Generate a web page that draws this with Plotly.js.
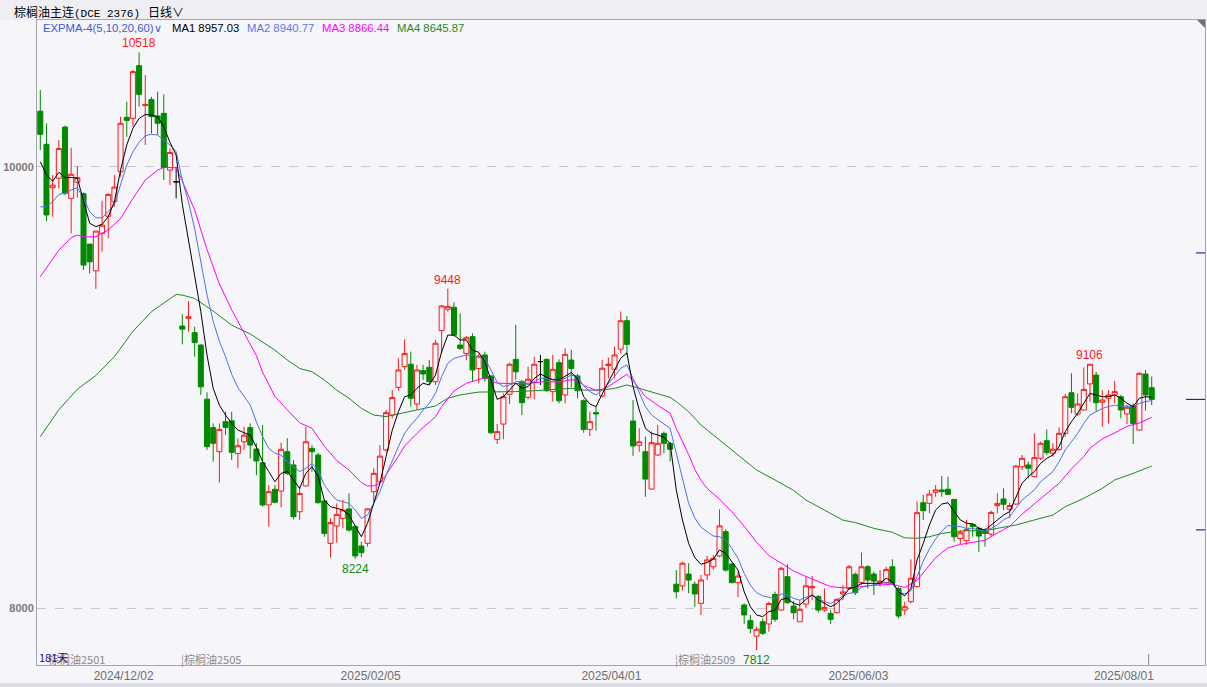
<!DOCTYPE html>
<html><head><meta charset="utf-8">
<script src="https://cdn.plot.ly/plotly-3.0.1.min.js"></script>
<style>html,body{margin:0;padding:0;background:#f5f5fa;overflow:hidden}</style>
</head><body><div id="chart" style="width:1207px;height:687px"></div>
<script>
// ---------- DATA ----------
const openPx = [10252,10102,9905,9948,10180,9857,9930,9878,9650,9529,9699,9776,9842,9978,10224,10219,10458,10277,10305,10230,10242,9985,9932,
9279,9314,9249,9193,8948,8819,8710,8846,8850,8702,8755,8819,8722,8660,8469,8540,8532,8710,8650,8438,8555,8725,8695,8487,8295,8374,8408,8451,8371,8283,8295,8529,8574,8718,8876,9001,9095,9106,8926,9077,9092,9027,9258,9355,9364,9193,9155,9231,9087,9148,9053,8766,8835,8970,9128,9027,8956,9023,9118,9128,8982,9113,8967,9125,9053,8941,8811,8887,8962,9100,9083,9174,9303,8849,8739,8710,8541,8695,8793,8748,
8110,8102,8156,8110,8023,8152,8189,8238,8348,8201,8117,8016,7945,7875,7940,7930,8064,7993,8144,8011,7940,8020,8094,8054,7993,7978,7981,8066,8090,8155,8117,8189,8156,8117,8117,8189,8091,7993,8031,8099,8479,8476,8526,8537,8540,8494,8317,8307,8381,8363,8348,8337,8466,8496,8449,8473,8642,8650,8597,8680,8760,8703,8721,8793,8977,8881,8899,9017,9057,8934,8952,8967,8959,8881,8917,8808,9062,9000];
const highPx = [10348,10197,9963,10121,10186,10086,10003,9884,9650,9709,9846,9880,9963,10227,10295,10438,10518,10415,10317,10340,10328,10083,10000,
9332,9392,9276,9196,8979,8838,8838,8891,8891,8770,8823,8838,8748,8831,8559,8559,8751,8771,8672,8552,8823,8740,8706,8491,8408,8476,8491,8521,8378,8303,8454,8635,8740,8899,8989,9133,9219,9163,9103,9103,9125,9216,9374,9448,9386,9336,9234,9246,9155,9163,9057,8835,8974,9113,9284,9035,9095,9140,9148,9133,9148,9128,9178,9171,9062,8947,8891,8914,9125,9137,9186,9344,9324,8944,8816,8778,8801,8831,8801,8755,
8174,8212,8205,8122,8152,8238,8242,8449,8358,8208,8167,8023,7971,7918,7955,8031,8076,8189,8201,8034,8038,8144,8147,8061,8091,7993,8046,8106,8197,8162,8253,8197,8167,8174,8189,8223,8099,8031,8223,8484,8514,8537,8559,8600,8597,8494,8355,8401,8386,8371,8363,8443,8522,8544,8479,8650,8695,8665,8793,8755,8811,8748,8820,8971,9065,8974,9092,9106,9072,8989,8989,9030,8967,8922,8929,9069,9080,9050];
const lowPx = [10076,9754,9774,9902,9872,9699,9860,9533,9517,9447,9616,9676,9819,9955,10136,10182,10272,10099,10151,10144,9940,9917,9857,
9196,9253,9140,8967,8718,8665,8571,8785,8672,8635,8718,8680,8604,8461,8371,8476,8458,8604,8404,8401,8552,8620,8476,8325,8232,8298,8363,8348,8224,8232,8280,8484,8567,8710,8861,8986,9080,8914,8899,9035,9012,9012,9155,9344,9231,9170,9125,9027,9020,9027,8790,8745,8766,8926,9035,8876,8947,8947,9012,8982,8937,8929,8929,9001,8952,8796,8781,8805,8956,9042,9042,9155,9148,8691,8710,8506,8537,8691,8703,8665,
8046,8081,8069,8008,7971,8129,8177,8232,8167,8114,8051,7930,7888,7812,7880,7895,7940,7990,8023,7951,7940,8001,8038,7981,7986,7930,7978,8038,8084,8061,8106,8091,8061,8099,8106,8106,7955,7971,8023,8096,8401,8431,8506,8506,8514,8303,8292,8288,8325,8257,8280,8325,8431,8446,8408,8469,8627,8589,8594,8672,8695,8688,8713,8778,8884,8872,8896,8937,8891,8823,8838,8929,8861,8835,8745,8805,8896,8921];
const closePx = [10147,9782,9917,10083,9880,9966,9951,9555,9570,9709,9736,9875,9908,10197,10210,10431,10328,10283,10227,10197,9997,10065,9932,
9265,9321,9204,9004,8733,8748,8811,8820,8707,8737,8785,8740,8668,8469,8529,8481,8721,8612,8416,8521,8755,8710,8479,8340,8389,8426,8446,8355,8238,8253,8451,8612,8690,8887,8955,9080,9155,8952,9080,9062,9027,9201,9370,9367,9238,9178,9226,9080,9143,9042,8796,8801,8959,9106,9072,8932,9038,9106,9118,8986,9083,8941,9151,9087,8986,8811,8846,8881,9088,9106,9148,9303,9196,8736,8755,8586,8751,8748,8748,8721,
8076,8205,8129,8066,8129,8220,8227,8374,8174,8117,8147,7971,7910,7906,7888,8023,7951,8182,8026,7981,7996,8103,8099,7993,8005,7951,8041,8075,8189,8072,8189,8129,8124,8124,8177,8114,7966,8008,8137,8434,8443,8518,8537,8529,8517,8325,8343,8358,8371,8328,8340,8435,8476,8472,8466,8645,8680,8635,8683,8748,8706,8721,8793,8959,8911,8926,8992,9106,8932,8944,8967,8982,8899,8911,8838,9065,8967,8947];

// EXPMA lines
const ma1 = [10023,9963,9935,9975,9951,9952,9948,9842,9744,9729,9739,9774,9842,9985,10099,10174,10219,10237,10234,10227,10181,10111,10053,
9830,9668,9510,9344,9148,8997,8921,8876,8838,8808,8796,8785,8730,8665,8620,8574,8612,8620,8582,8544,8612,8642,8597,8491,8461,8454,8446,8423,8371,8325,8386,8476,8567,8688,8808,8891,8959,8967,8997,9020,9012,9057,9163,9238,9238,9216,9216,9170,9160,9118,9035,8947,8959,8989,9020,8997,9005,9042,9062,9047,9035,9035,9053,9068,9042,8959,8926,8914,8971,9027,9080,9133,9158,9005,8899,8816,8793,8786,8775,8748,
8537,8401,8295,8230,8200,8208,8223,8265,8250,8212,8174,8076,8008,7971,7963,7986,7993,8041,8046,8023,8016,8041,8061,8039,8023,8008,8023,8051,8091,8096,8114,8114,8114,8114,8137,8121,8076,8057,8091,8220,8295,8378,8446,8473,8479,8439,8401,8386,8383,8363,8355,8378,8401,8423,8439,8506,8567,8597,8620,8657,8680,8695,8733,8801,8846,8884,8929,8974,8967,8959,8959,8967,8952,8929,8914,8952,8959,8957];
const ma2 = [9819,9819,9842,9875,9880,9895,9905,9857,9797,9769,9769,9797,9830,9917,10008,10068,10111,10141,10147,10144,10121,10099,10068,
9940,9840,9720,9570,9420,9300,9210,9140,9060,9000,8960,8921,8845,8778,8725,8703,8695,8665,8642,8620,8635,8657,8627,8559,8521,8491,8484,8476,8446,8408,8423,8476,8529,8604,8672,8733,8793,8831,8861,8899,8929,8974,9050,9110,9133,9140,9148,9148,9137,9133,9080,9023,9005,9012,9027,9027,9012,9027,9042,9042,9038,9035,9042,9057,9050,9008,8982,8967,8989,9020,9050,9088,9103,9042,8974,8914,8876,8854,8835,8816,
8703,8582,8476,8410,8368,8348,8328,8325,8310,8272,8227,8159,8106,8072,8057,8051,8046,8066,8061,8046,8038,8051,8061,8046,8031,8023,8038,8057,8069,8072,8096,8102,8106,8111,8117,8111,8076,8066,8081,8144,8215,8270,8315,8350,8376,8372,8371,8363,8363,8355,8352,8363,8378,8401,8416,8454,8491,8514,8537,8574,8597,8620,8665,8718,8755,8793,8838,8876,8891,8906,8914,8921,8917,8914,8914,8929,8937,8941];
const ma3Idx = [0,3,5,6,7,9,11,13,15,17,19,20,22,23,25,27,29,31,33,35,36,38,40,42,44,46,48,50,52,53,54,55,56,57,58,59,60,62,64,65,67,69,71,72,74,76,78,80,82,84,86,87,88,90,91,92,94,95,96,97,98,100,102,103,104,105,106,107,108,110,112,114,116,118,120,122,124,126,128,130,132,134,136,138,140,142,145,147,149,151,153,155,157,159,161,163,165,167,169,170,172,174,176,178,180];
const ma3Val = [9502,9623,9679,9691,9683,9683,9714,9766,9857,9940,9985,9997,9996,9935,9804,9625,9470,9352,9248,9145,9070,8960,8900,8841,8816,8735,8670,8627,8570,8555,8555,8567,8605,8645,8690,8735,8765,8820,8868,8915,8985,9020,9036,9045,9020,9020,9018,9022,9028,9025,9036,9033,9010,8988,8992,9005,9043,9060,9032,8995,8960,8920,8885,8815,8757,8697,8630,8580,8544,8495,8438,8372,8300,8240,8205,8170,8145,8121,8099,8094,8096,8103,8108,8110,8095,8128,8230,8275,8290,8298,8309,8342,8372,8427,8474,8519,8567,8632,8688,8726,8768,8795,8825,8840,8866];
const ma4Idx = [0,3,6,9,12,15,18,21,22,23,25,28,31,34,36,38,40,42,44,46,48,50,52,54,56,58,60,62,64,66,68,71,74,77,80,83,86,88,91,93,95,96,98,100,102,103,105,107,116,119,122,124,127,130,132,135,138,140,142,144,146,148,150,153,155,158,161,164,166,169,172,174,177,180];
const ma4Val = [8778,8900,8993,9055,9140,9255,9344,9404,9422,9419,9404,9347,9283,9243,9208,9170,9125,9087,9072,9035,8989,8952,8906,8876,8869,8881,8891,8902,8917,8952,8967,8980,8980,8982,8986,8992,8997,8989,8989,8997,9012,9005,8989,8971,8956,8937,8891,8831,8627,8582,8535,8491,8446,8400,8389,8363,8345,8320,8318,8325,8340,8348,8352,8352,8363,8378,8401,8423,8461,8499,8544,8582,8612,8645];

const tickIdx  = [13.5, 53.5, 92.5, 132.5, 175.5];
const tickText = ['2024/12/02','2025/02/05','2025/04/01','2025/06/03','2025/08/01'];
const priceTicks = [8000, 10000];
const legendNames = ['MA1','MA2','MA3','MA4'];
const legendVals  = ['8957.03','8940.77','8866.44','8645.87'];
const markIdx  = [16, 66, 170, 51, 116];      // labelled extremes
const markType = ['high','high','high','low','low'];
const contractNames  = ['棕榈油2501','棕榈油2505','棕榈油2509'];
const contractStarts = [0, 23, 103];
const rightMarks = [9610, 8356];
const cursorIdx = 179.5;
const dayCount = '181天';

// ---------- BUILD ----------
const N = closePx.length;
const idx = Array.from({length:N}, (_, i) => i);
const main = idx.filter(i => openPx[i] !== closePx[i]);
const doji = idx.filter(i => openPx[i] === closePx[i]);
const pick = (arr, sel) => sel.map(i => arr[i]);

const RED = '#ff1a1a', GREEN = '#008a00', BG = '#f5f5fa';
const traces = [
  {type:'candlestick', x: main, open: pick(openPx,main), high: pick(highPx,main), low: pick(lowPx,main), close: pick(closePx,main),
   increasing:{line:{color:RED,width:1}, fillcolor:BG}, decreasing:{line:{color:GREEN,width:1}, fillcolor:GREEN},
   whiskerwidth:0, hoverinfo:'skip'},
  {type:'candlestick', x: doji, open: pick(openPx,doji), high: pick(highPx,doji), low: pick(lowPx,doji), close: pick(closePx,doji),
   increasing:{line:{color:'#000',width:1}, fillcolor:'#000'}, decreasing:{line:{color:'#000',width:1}, fillcolor:'#000'},
   whiskerwidth:0, hoverinfo:'skip'},
  {type:'scatter', mode:'lines', x: ma4Idx, y: ma4Val, line:{color:'#1f8a1f', width:1}, hoverinfo:'skip'},
  {type:'scatter', mode:'lines', x: ma3Idx, y: ma3Val, line:{color:'#ff00ff', width:1}, hoverinfo:'skip'},
  {type:'scatter', mode:'lines', x: idx, y: ma2, line:{color:'#4a72e8', width:1}, hoverinfo:'skip'},
  {type:'scatter', mode:'lines', x: idx, y: ma1, line:{color:'#000000', width:1}, hoverinfo:'skip'}
];

const PL = 37, PR = 1205, PT = 20, PB = 665;
const px = v => (v - PL) / (PR - PL);
const py = v => (PB - v) / (PB - PT);
const latin = 'Liberation Sans, Arial, sans-serif';
const cjk = 'Noto Sans CJK SC, sans-serif';

const annotations = [];
const ann = (o) => annotations.push(Object.assign({showarrow:false, xref:'paper', yref:'paper', xanchor:'left', yanchor:'middle'}, o));

ann({x:px(12), y:py(12), text:'棕榈油主连<span style="font-family:Liberation Mono, monospace;font-size:11px">(DCE 2376)</span>', font:{family:cjk, size:12, color:'#000'}});
ann({x:px(146), y:py(12), text:'日线∨', font:{family:cjk, size:12, color:'#000'}});
ann({x:px(41), y:py(28), text:'EXPMA-4(5,10,20,60)∨', font:{family:latin, size:11.3, color:'#3a5ad6'}});
const legColors = ['#000000','#5a78e8','#ff00ff','#1f8a1f'];
const legX = [170, 245, 320, 395];
legendNames.forEach((n, k) => ann({x:px(legX[k]), y:py(28), text:n + ' ' + legendVals[k], font:{family:latin, size:11.3, color:legColors[k]}}));

markIdx.forEach((i, k) => {
  const hi = markType[k] === 'high';
  annotations.push({showarrow:false, xref:'x', yref:'y', x:i, y: hi ? highPx[i] : lowPx[i],
    xanchor:'center', yanchor: hi ? 'bottom' : 'top', yshift: hi ? 0 : -1,
    text: String(hi ? highPx[i] : lowPx[i]), font:{family:latin, size:12, color: hi ? '#ff1a1a' : '#108a10'}});
});

contractNames.forEach((n, k) => {
  annotations.push({showarrow:false, xref:'x', yref:'paper', x: k === 0 ? contractStarts[k] + 0.9 : contractStarts[k] - 0.5, y: py(659),
    xanchor:'left', yanchor:'middle', text: (k === 0 ? '' : '¦') + n, font:{family:cjk, size:11, color:'#8a8a8a'}});
});
ann({x:px(37), y:py(657), text:dayCount, font:{family:cjk, size:11, color:'#1010a0'}});

const shapes = [
  {type:'rect', xref:'paper', yref:'paper', x0:px(0), x1:px(1207), y0:py(20), y1:py(0), fillcolor:'#eeeef3', line:{width:0}, layer:'below'},
  {type:'rect', xref:'paper', yref:'paper', x0:px(0), x1:px(1207), y0:py(687), y1:py(683), fillcolor:'#dcdce4', line:{width:0}, layer:'below'},
  {type:'path', xref:'paper', yref:'paper', path:`M ${px(1197)},${py(20)} L ${px(1205)},${py(20)} L ${px(1205)},${py(28)} Z`, fillcolor:'#707070', line:{width:0}},
  {type:'line', xref:'paper', yref:'y', x0:px(1186), x1:1, y0:closePx[N-1], y1:closePx[N-1], line:{color:'#000080', width:1}},
  {type:'line', xref:'x', yref:'paper', x0:cursorIdx, x1:cursorIdx, y0:0, y1:py(654), line:{color:'#8a8a8a', width:1}}
];
rightMarks.forEach(v => shapes.push({type:'line', xref:'paper', yref:'y', x0:px(1196), x1:1, y0:v, y1:v, line:{color:'#000080', width:1}}));

const layout = {
  width:1207, height:687, margin:{l:37, r:2, t:20, b:22, pad:0},
  paper_bgcolor:BG, plot_bgcolor:BG, showlegend:false,
  boxgap:0.1, boxgroupgap:0.1,
  xaxis:{range:[-0.535, 188.63], showgrid:false, zeroline:false, showline:true, linecolor:'#a4a4ac', linewidth:1, mirror:true,
         tickmode:'array', tickvals:tickIdx, ticktext:tickText, ticks:'', tickfont:{family:latin, size:12, color:'#6e6e6e'},
         rangeslider:{visible:false}, fixedrange:true},
  yaxis:{range:[7744.2, 10664.7], tickmode:'array', tickvals:priceTicks, ticktext:priceTicks.map(String), showgrid:true,
         gridcolor:'#c6c6cc', griddash:'dash', gridwidth:1, zeroline:false, showline:true, linecolor:'#a4a4ac', mirror:true,
         ticks:'', tickfont:{family:latin, size:11, color:'#7a7a7a', weight:'bold'}, fixedrange:true},
  shapes, annotations
};
Plotly.newPlot('chart', traces, layout, {staticPlot:true, displayModeBar:false});
</script></body></html>
